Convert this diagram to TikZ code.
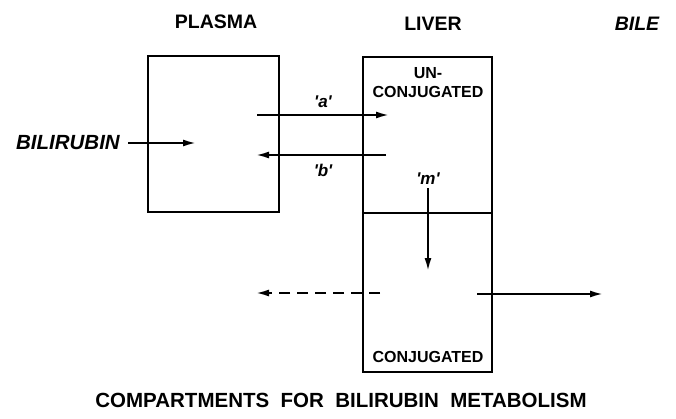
\documentclass[tikz,border=0pt]{standalone}
\usepackage{fontspec}
\setmainfont{Liberation Sans}
\usetikzlibrary{arrows.meta}
\begin{document}
\begin{tikzpicture}[x=1pt,y=-1pt,
  every node/.style={font=\bfseries},
  comp/.style={draw,line width=2.2pt,inner sep=0pt},
  flow/.style={line width=2pt,-{Latex[length=13pt,width=7pt]}},
  hdr/.style={font=\bfseries\fontsize{19.5}{22}\selectfont},
  lbl/.style={font=\bfseries\itshape\fontsize{17}{19}\selectfont},
  inbox/.style={font=\bfseries\fontsize{16}{18}\selectfont}]
\useasboundingbox (0,0) rectangle (676,419);
% headers
\node[hdr] (hplasma) at (216,22) {PLASMA};
\node[hdr] (hliver) at (433,24) {LIVER};
\node[hdr,font=\bfseries\itshape\fontsize{19.5}{22}\selectfont] (hbile) at (637,24) {BILE};
% compartments
\node[comp,minimum width=131pt,minimum height=156pt] (plasma) at (213.5,134) {};
\node[comp,minimum width=129pt,minimum height=315pt] (liver) at (427.5,214.5) {};
\coordinate (divy) at (0,213);
\draw[line width=2.2pt] (liver.west |- divy) -- (liver.east |- divy);
% texts in liver
\node[inbox] (un) at (428,73) {UN-};
\node[inbox] (unconj) at (428,92) {CONJUGATED};
\node[inbox] (conj) at (428,357) {CONJUGATED};
% bilirubin input
\node[font=\bfseries\itshape\fontsize{20.5}{23}\selectfont,anchor=east,inner sep=0pt] (bili) at (120,143) {BILIRUBIN};
\coordinate (biliend) at (196,143);
\draw[flow] (bili.east) ++(8,0) coordinate (bilistart) -- (biliend);
% exchange a and b
\coordinate (a1) at (257,115); \coordinate (a2) at (389,115);
\coordinate (b1) at (386,155); \coordinate (b2) at (256,155);
\draw[flow] (a1) -- (a2);
\draw[flow] (b1) -- (b2);
\node[lbl] (la) at (323,102) {\textquotesingle a\textquotesingle};
\node[lbl] (lb) at (323,170) {\textquotesingle b\textquotesingle};
% m
\node[lbl] (lm) at (428,179) {\textquotesingle m\textquotesingle};
\coordinate (m2) at (428,271);
\draw[flow] (lm.south) -- (m2);
% reflux dashed
\coordinate (d1) at (380,293); \coordinate (d2) at (256,293);
\draw[flow,dash pattern=on 11pt off 7pt] (d1) -- (d2);
% excretion to bile
\coordinate (e1) at (477,294); \coordinate (e2) at (603,294);
\draw[flow] (e1) -- (e2);
% title
\node[font=\bfseries\fontsize{20.5}{23}\selectfont] (title) at (341,400) {COMPARTMENTS\ \ FOR\ \ BILIRUBIN\ \ METABOLISM};
\end{tikzpicture}
\end{document}
